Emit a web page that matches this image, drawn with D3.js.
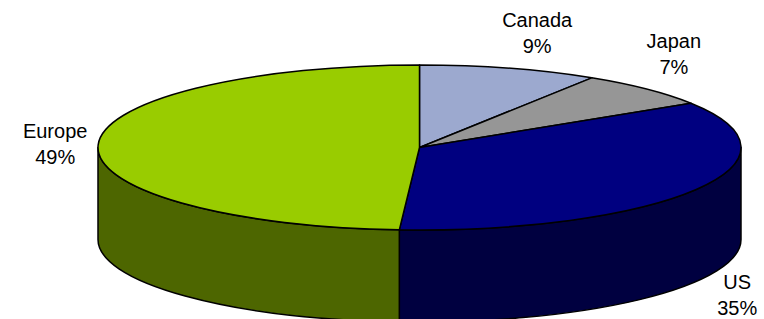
<!DOCTYPE html>
<html lang="en">
<head>
<meta charset="UTF-8"/>
<title>3D pie</title>
<script src="https://d3js.org/d3.v7.min.js"></script>
<style>
	body { margin: 0; background: #fff; }
	svg { display: block; }
</style>
</head>
<body>
<script>
var w = 764;
var h = 319;

// data
var regions = ["Canada", "Japan", "US", "Europe"];
var shares = [9, 7, 35, 49];

var topColours = ["#9CA9CF", "#969696", "#000080", "#99CC00"];
var sideColours = ["#4E5468", "#4B4B4B", "#000040", "#4D6600"];

// ellipse of the top face
var cx = 419.5, cy = 147.5;
var rx = 321.5, ry = 82.5;
var depth = 92;

// label offsets from the slice mid point on the rim
var labelOffsets = [[28, -41], [27, -41], [41, 100], [-43, -7]];

var svg = d3.select("body")
	.append("svg")
	.attr("width", w)
	.attr("height", h);

var pie = d3.pie()
	.sort(null)
	.value(function(d){ return d; });

var arcs = pie(shares);

function px(a){ return cx + rx * Math.sin(a); }
function py(a){ return cy - ry * Math.cos(a); }

function topPath(d){
	var a0 = d.startAngle, a1 = d.endAngle;
	var large = (a1 - a0) > Math.PI ? 1 : 0;
	return "M" + cx + "," + cy +
		"L" + px(a0) + "," + py(a0) +
		"A" + rx + "," + ry + " 0 " + large + " 1 " + px(a1) + "," + py(a1) + "Z";
}

function sidePath(d){
	// only the front half of the rim is seen
	var a0 = Math.max(d.startAngle, Math.PI / 2);
	var a1 = Math.min(d.endAngle, 3 * Math.PI / 2);
	if (a1 <= a0) return null;
	return "M" + px(a0) + "," + py(a0) +
		"A" + rx + "," + ry + " 0 0 1 " + px(a1) + "," + py(a1) +
		"L" + px(a1) + "," + (py(a1) + depth) +
		"A" + rx + "," + ry + " 0 0 0 " + px(a0) + "," + (py(a0) + depth) + "Z";
}

// sides
svg.selectAll("path.side")
	.data(arcs.filter(function(d){ return sidePath(d) !== null; }))
	.enter()
	.append("path")
	.attr("class", "side")
	.attr("d", sidePath)
	.attr("fill", function(d){ return sideColours[d.index]; })
	.attr("stroke", "#000")
	.attr("stroke-width", 1.5)
	.attr("stroke-linejoin", "round");

// top face
svg.selectAll("path.top")
	.data(arcs)
	.enter()
	.append("path")
	.attr("class", "top")
	.attr("d", topPath)
	.attr("fill", function(d){ return topColours[d.index]; })
	.attr("stroke", "#000")
	.attr("stroke-width", 1.5)
	.attr("stroke-linejoin", "round");

// labels
var labels = svg.selectAll("text.lbl")
	.data(arcs)
	.enter()
	.append("text")
	.attr("class", "lbl")
	.attr("text-anchor", "middle")
	.style("font-family", "Arial, 'Liberation Sans', sans-serif")
	.style("font-size", "20px")
	.style("fill", "#000")
	.attr("transform", function(d){
		var m = (d.startAngle + d.endAngle) / 2;
		var o = labelOffsets[d.index];
		return "translate(" + (px(m) + o[0]) + "," + (py(m) + o[1]) + ")";
	});

labels.append("tspan")
	.attr("x", 0)
	.attr("y", 0)
	.text(function(d){ return regions[d.index]; });

labels.append("tspan")
	.attr("x", 0)
	.attr("y", 26)
	.text(function(d){ return shares[d.index] + "%"; });
</script>
</body>
</html>
